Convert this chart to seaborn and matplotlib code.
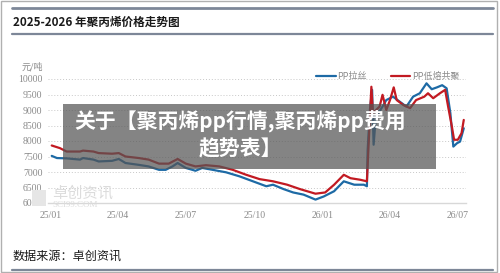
import matplotlib
matplotlib.use("Agg")
import matplotlib.pyplot as plt
import matplotlib.dates as mdates
import matplotlib.patches as mpatches
import matplotlib.lines as mlines
import pandas as pd
import seaborn as sns

# ---------------- data ----------------
series_names = ["PP拉丝", "PP低熔共聚"]

blue_dates = ["2025-01-02", "2025-01-09", "2025-01-22", "2025-02-09", "2025-02-13", "2025-02-27",
              "2025-03-06", "2025-03-24", "2025-04-02", "2025-04-11", "2025-04-29", "2025-05-12",
              "2025-05-26", "2025-06-04", "2025-06-13", "2025-06-20", "2025-07-01", "2025-07-14",
              "2025-07-23", "2025-08-06", "2025-08-24", "2025-09-11", "2025-09-29", "2025-10-17",
              "2025-10-26", "2025-11-09", "2025-11-22", "2025-12-06", "2025-12-22", "2026-01-02",
              "2026-01-16", "2026-01-20", "2026-01-29", "2026-02-12", "2026-02-25", "2026-03-01",
              "2026-03-02", "2026-03-05", "2026-03-08", "2026-03-10", "2026-03-13", "2026-03-22",
              "2026-03-27", "2026-04-05", "2026-04-14", "2026-04-23", "2026-05-02", "2026-05-11",
              "2026-05-20", "2026-05-27", "2026-06-03", "2026-06-10", "2026-06-16", "2026-06-21",
              "2026-06-25", "2026-06-30", "2026-07-04", "2026-07-09"]
blue_values = [7520, 7450, 7440, 7400, 7450, 7400,
               7340, 7360, 7420, 7290, 7230, 7180,
               7070, 7070, 7180, 7290, 7130, 7040,
               7130, 7070, 6990, 6860, 6700, 6540,
               6590, 6450, 6340, 6270, 6110, 6210,
               6380, 6480, 6700, 6590, 6590, 6540,
               7700, 9000, 9650, 7880, 8790, 9110,
               9320, 9430, 9270, 9110, 9430, 9540,
               9860, 9670, 9730, 9800, 9700, 8900,
               7820, 7930, 7980, 8410]

red_dates = ["2025-01-02", "2025-01-13", "2025-01-22", "2025-02-09", "2025-02-13", "2025-02-27",
             "2025-03-06", "2025-03-24", "2025-04-02", "2025-04-11", "2025-04-29", "2025-05-12",
             "2025-05-26", "2025-06-08", "2025-06-20", "2025-07-01", "2025-07-14", "2025-07-28",
             "2025-08-15", "2025-09-02", "2025-09-20", "2025-10-08", "2025-10-26", "2025-11-14",
             "2025-12-01", "2025-12-22", "2026-01-04", "2026-01-16", "2026-01-29", "2026-02-07",
             "2026-02-20", "2026-03-01", "2026-03-04", "2026-03-07", "2026-03-09", "2026-03-18",
             "2026-03-22", "2026-03-27", "2026-04-01", "2026-04-06", "2026-04-10", "2026-04-19",
             "2026-04-28", "2026-05-06", "2026-05-17", "2026-05-22", "2026-05-29", "2026-06-07",
             "2026-06-14", "2026-06-18", "2026-06-23", "2026-06-26", "2026-07-01", "2026-07-06",
             "2026-07-09"]
red_values = [7855, 7770, 7660, 7660, 7690, 7660,
              7610, 7590, 7610, 7500, 7450, 7400,
              7270, 7270, 7420, 7270, 7180, 7220,
              7180, 7070, 6910, 6770, 6700, 6590,
              6450, 6300, 6340, 6590, 6910, 6800,
              6750, 6700, 8250, 9750, 8900, 9110,
              9490, 9000, 9320, 9730, 9320, 9160,
              9060, 9320, 9430, 9540, 9380, 9540,
              9650, 9110, 8470, 8040, 8040, 8250,
              8680]

y_ticks = [6000, 6500, 7000, 7500, 8000, 8500, 9000, 9500, 10000]
x_tick_labels = ["25/01", "25/04", "25/07", "25/10", "26/01", "26/04", "26/07"]
x_tick_dates = ["2025-01-01", "2025-04-01", "2025-07-01", "2025-10-01",
                "2026-01-01", "2026-04-01", "2026-07-01"]

title_text = "2025-2026 年聚丙烯价格走势图"
source_text = "数据来源：卓创资讯"
unit_text = "元/吨"
overlay_line1 = "关于【聚丙烯pp行情,聚丙烯pp费用"
overlay_line2 = "趋势表】"

# ---------------- build frame ----------------
df = pd.concat([
    pd.DataFrame({"date": pd.to_datetime(blue_dates), "price": blue_values, "series": series_names[0]}),
    pd.DataFrame({"date": pd.to_datetime(red_dates), "price": red_values, "series": series_names[1]}),
], ignore_index=True)

sns.set_style("white")
plt.rcParams["font.family"] = ["Noto Sans CJK SC", "DejaVu Sans"]

W, H = 500, 273
fig = plt.figure(figsize=(5.0, 2.73), dpi=100)
fig.patch.set_facecolor("white")

def fx(px):
    return px / W

def fy(py):
    return 1 - py / H

ax = fig.add_axes([fx(48), fy(203), fx(466) - fx(48), fy(79) - fy(203)])

blue_c = "#1d6aa5"
red_c = "#c21a22"
sns.lineplot(data=df, x="date", y="price", hue="series", hue_order=series_names,
             palette=[blue_c, red_c], estimator=None, linewidth=1.6, ax=ax, legend=False)

ax.set_ylim(6000, 10000)
ax.set_xlim(pd.Timestamp("2024-12-28"), pd.Timestamp("2026-07-12"))
ax.set_xlabel("")
ax.set_ylabel("")

for s in ["top", "right", "left"]:
    ax.spines[s].set_visible(False)
ax.spines["bottom"].set_color("#d8d8d8")
ax.spines["bottom"].set_linewidth(1.0)

for v in y_ticks[1:]:
    ax.axhline(v, color="#c8c8c8", linewidth=0.7, linestyle=(0, (1, 2)), zorder=0)

ax.set_yticks(y_ticks)
ax.set_yticklabels([str(v) for v in y_ticks], family="Liberation Serif", fontsize=7, color="#8a8a8a")
ax.set_xticks(pd.to_datetime(x_tick_dates))
ax.set_xticklabels(x_tick_labels, family="Liberation Serif", fontsize=7, color="#8a8a8a")
ax.tick_params(axis="y", length=0, pad=4)
ax.tick_params(axis="x", length=3, color="#d8d8d8", direction="inout", pad=4)

# unit label
ax.text(-0.013, 1.10, unit_text, transform=ax.transAxes, ha="right", va="center",
        fontsize=6.5, color="#8a8a8a")

# legend
handles = [mlines.Line2D([], [], color=blue_c, linewidth=1.6),
           mlines.Line2D([], [], color=red_c, linewidth=1.6)]
leg = ax.legend(handles, series_names, loc="center right", bbox_to_anchor=(0.985, 1.02),
                ncol=2, frameon=False, fontsize=6.5, handlelength=2.2, handletextpad=0.2,
                columnspacing=2.6, borderpad=0, borderaxespad=0)
for t in leg.get_texts():
    t.set_color("#8a8a8a")

# watermark
fig.text(fx(52), fy(193), "卓创资讯", fontsize=11, color="#dcdcdc", ha="left", va="center", zorder=0)
fig.text(fx(52), fy(205), "SCI99.COM", fontsize=6.5, color="#dcdcdc", ha="left", va="center",
         family="Liberation Serif", zorder=0)
fig.patches.append(mpatches.Rectangle((fx(32), fy(206)), fx(14), fy(190) - fy(206),
                                      transform=fig.transFigure, facecolor="#e6e6e6",
                                      edgecolor="none", zorder=0))

# frame, rules
frame = mpatches.Rectangle((fx(1), fy(272)), fx(497) - fx(1), fy(0.5) - fy(272),
                           transform=fig.transFigure, facecolor="none",
                           edgecolor="#b0b0b0", linewidth=1.0)
fig.patches.append(frame)
for yy, lw in [(8, 2.0), (34, 1.6), (270, 1.6)]:
    fig.lines.append(mlines.Line2D([fx(12), fx(493)], [fy(yy), fy(yy)],
                                   transform=fig.transFigure, color="#7d8798", linewidth=lw))

fig.text(fx(13), fy(22), title_text, fontsize=8.4, fontweight="bold", color="#1a1a1a",
         ha="left", va="center")
fig.text(fx(13), fy(256), source_text, fontsize=8.7, color="#1a1a1a", ha="left", va="center")

# overlay banner
banner = mpatches.Rectangle((fx(63), fy(169)), fx(436) - fx(63), fy(104) - fy(169),
                            transform=fig.transFigure, facecolor="#555555", alpha=0.72,
                            edgecolor="none", zorder=10)
fig.patches.append(banner)
fig.text(fx(240), fy(122), overlay_line1, fontsize=15, fontweight="bold", color="white",
         ha="center", va="center", zorder=11)
fig.text(fx(240), fy(149), overlay_line2, fontsize=15, fontweight="bold", color="white",
         ha="center", va="center", zorder=11)

fig.savefig("out.png", dpi=100, facecolor="white")
